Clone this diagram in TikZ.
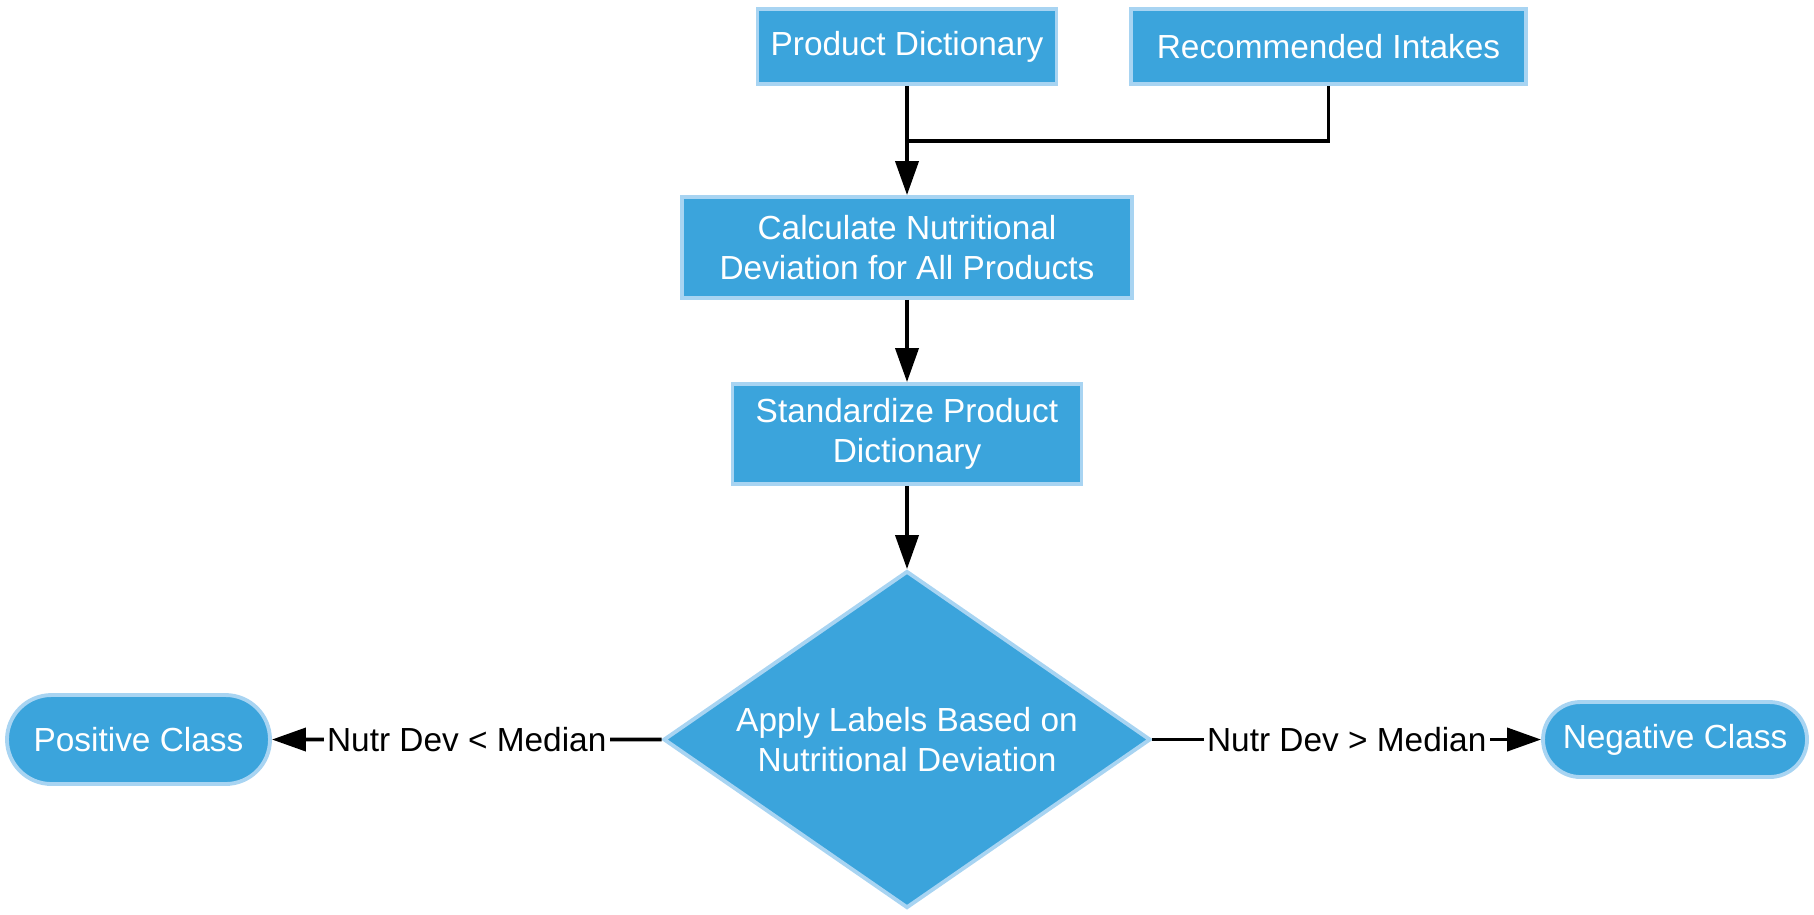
\documentclass[tikz,border=0pt]{standalone}
\usepackage{fontspec}
\setmainfont{Liberation Sans}
\usetikzlibrary{arrows.meta,shapes.geometric,shapes.misc}
\definecolor{sky}{HTML}{3BA4DC}
\definecolor{pale}{HTML}{A8D4F2}
\newcommand{\fs}{\fontsize{9.5}{11.5}\selectfont}
\tikzset{
  proc/.style={rectangle, fill=sky, draw=pale, line width=1.1pt, text=white, align=center, inner sep=0pt, font=\fs},
  dec/.style={diamond, aspect=1.445, fill=sky, draw=pale, line width=1.1pt, text=white, align=center, inner sep=0pt, font=\fs},
  term/.style={rounded rectangle, fill=sky, draw=pale, line width=1.1pt, text=white, inner sep=0pt, font=\fs},
  flow/.style={-{Triangle[length=3.4mm,width=2.3mm]}, line width=1.1pt},
  lbl/.style={fill=white, inner sep=1pt, text=black, font=\fs},
}

\begin{document}
\begin{tikzpicture}
 \useasboundingbox (0,0) rectangle (18.14,-9.14);
 \node[proc, minimum width=2.99cm, minimum height=0.75cm] (pd) at (9.07,-0.465) {Product Dictionary};
 \node[proc, minimum width=3.95cm, minimum height=0.75cm] (ri) at (13.285,-0.465) {Recommended Intakes};
 \node[proc, minimum width=4.50cm, minimum height=1.01cm] (calc) at (9.07,-2.475) {Calculate Nutritional\\Deviation for All Products};
 \node[proc, minimum width=3.49cm, minimum height=1.00cm] (std) at (9.07,-4.34) {Standardize Product\\Dictionary};
 \node[dec, minimum width=4.87cm, minimum height=3.37cm] (lab) at (9.07,-7.395) {Apply Labels Based on\\Nutritional Deviation};
 \node[term, minimum width=2.63cm, minimum height=0.89cm] (pos) at (1.385,-7.395) {Positive Class};
 \node[term, minimum width=2.64cm, minimum height=0.75cm] (neg) at (16.75,-7.395) {Negative Class};
 \coordinate (j) at (9.07,-1.41);
 \draw[flow] (pd) -- (calc);
 \draw[line width=1.1pt] (ri) |- (j);
 \draw[flow] (calc) -- (std);
 \draw[flow] (std) -- (lab);
 \draw[flow] (lab) -- node[lbl]{Nutr Dev < Median} (pos);
 \draw[flow] (lab) -- node[lbl]{Nutr Dev > Median} (neg);
\end{tikzpicture}
\end{document}
